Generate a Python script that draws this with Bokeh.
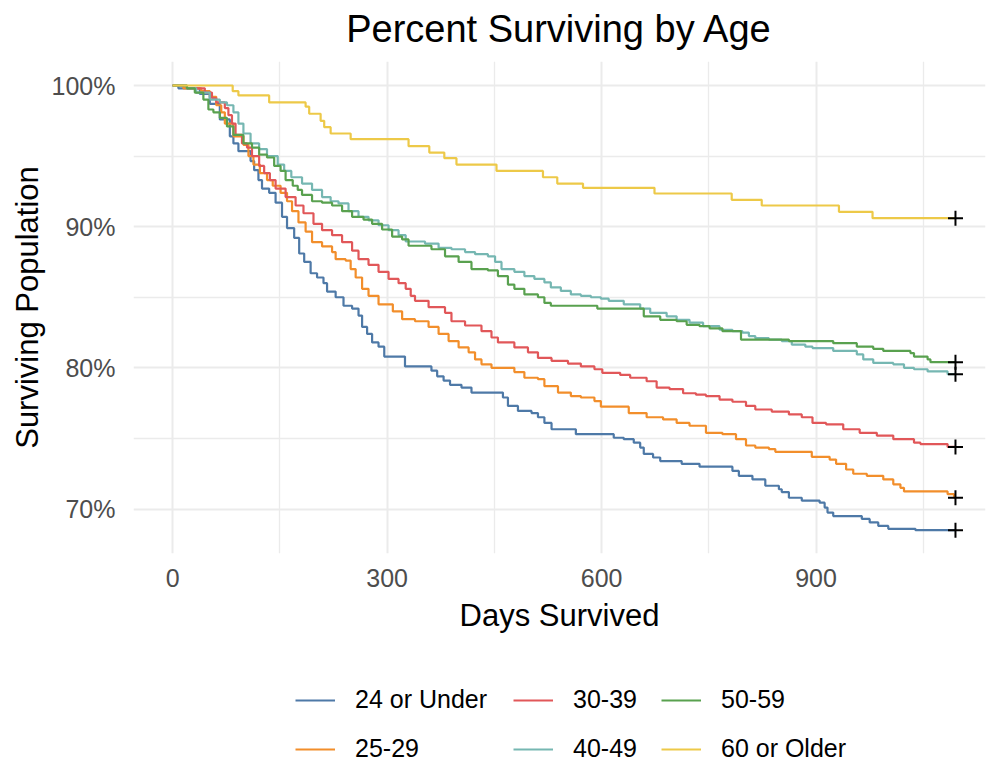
from bokeh.plotting import figure
from bokeh.layouts import column
from bokeh.models import (Range1d, FixedTicker, PrintfTickFormatter, Legend,
                          LegendItem, ColumnDataSource, Label)
from bokeh.embed import file_html
from bokeh.resources import INLINE

# ---------------- data (Kaplan-Meier steps) ----------------
FOLLOW_UP = 1095  # last day of follow-up (censoring marks)

title_text = "Percent Surviving by Age"
groups = ["24 or Under", "25-29", "30-39", "40-49", "50-59", "60 or Older"]
colors = ["#4E79A7", "#F28E2B", "#E15759", "#76B7B2", "#59A14F", "#EDC948"]

days_24 = [0, 8, 38, 52, 66, 80, 85, 92, 109, 114, 120, 125, 135, 144, 153, 160, 170, 177,
           184, 193, 202, 211, 216, 228, 239, 251, 260, 265, 272, 279, 288, 296, 325, 362,
           370, 379, 388, 404, 418, 462, 469, 483, 502, 511, 520, 530, 564, 617, 631, 645,
           654, 659, 672, 682, 712, 737, 783, 792, 811, 829, 848, 852, 862, 880, 905, 912,
           916, 924, 964, 975, 987, 1001, 1039]
surv_24 = [100, 99.8, 99.4, 98.7, 97.6, 96.4, 95.9, 95.35, 94.65, 94.0, 93.3, 92.7, 92.4,
           91.7, 90.7, 89.9, 89.2, 88.1, 87.5, 86.7, 86.4, 86.0, 85.4, 85.0, 84.4, 84.2,
           83.7, 82.9, 82.4, 81.8, 81.5, 80.8, 80.1, 79.8, 79.4, 79.1, 78.8, 78.6, 78.25,
           77.9, 77.3, 76.95, 76.8, 76.5, 76.1, 75.65, 75.3, 75.05, 74.95, 74.7, 74.35,
           73.9, 73.65, 73.4, 73.2, 73.0, 72.7, 72.35, 72.1, 71.65, 71.4, 71.2, 70.8, 70.6,
           70.45, 70.1, 69.75, 69.5, 69.3, 69.05, 68.8, 68.6, 68.5]

days_25 = [0, 15, 40, 52, 61, 68, 73, 85, 99, 106, 113, 122, 132, 140, 151, 160, 167, 176,
           186, 195, 209, 223, 228, 242, 249, 256, 265, 274, 288, 308, 321, 339, 358, 372,
           386, 400, 414, 423, 432, 446, 478, 492, 511, 520, 539, 557, 571, 590, 599, 638,
           663, 686, 705, 723, 746, 769, 788, 802, 815, 834, 843, 894, 919, 928, 942, 952,
           971, 994, 1008, 1018, 1023, 1084, 1093]
surv_25 = [100, 99.8, 99.6, 99.2, 98.6, 98.1, 97.3, 96.4, 95.8, 95.0, 94.4, 93.8, 93.3,
           92.9, 92.4, 91.8, 91.1, 90.3, 89.65, 88.9, 88.6, 88.2, 87.7, 87.6, 87.0, 86.4,
           85.6, 85.1, 84.5, 84.0, 83.45, 83.3, 82.9, 82.4, 81.9, 81.45, 81.1, 80.6, 80.25,
           80.0, 79.7, 79.3, 79.2, 78.7, 78.25, 78.0, 77.9, 77.65, 77.25, 76.8, 76.5,
           76.35, 76.1, 75.9, 75.4, 75.3, 74.95, 74.5, 74.35, 74.25, 74.05, 73.7, 73.5,
           73.2, 72.8, 72.5, 72.35, 72.1, 71.75, 71.5, 71.25, 71.05, 70.8]

days_30 = [0, 20, 45, 55, 61, 73, 78, 83, 88, 97, 104, 111, 121, 128, 136, 144, 158, 172,
           183, 197, 209, 223, 237, 251, 260, 274, 288, 302, 316, 326, 333, 339, 358, 381,
           390, 409, 432, 446, 455, 478, 497, 511, 530, 553, 571, 590, 601, 626, 640, 663,
           677, 695, 714, 732, 746, 765, 783, 802, 815, 838, 862, 880, 895, 914, 938, 961,
           985, 1008, 1037, 1046, 1084]
surv_30 = [100, 99.8, 99.5, 99.1, 98.8, 98.4, 97.9, 97.3, 96.5, 95.9, 95.6, 95.0, 94.3,
           93.8, 93.3, 92.7, 92.1, 91.5, 90.95, 90.2, 89.75, 89.4, 88.9, 88.3, 87.7, 87.3,
           86.8, 86.3, 86.0, 85.6, 85.1, 84.75, 84.3, 83.9, 83.3, 83.0, 82.6, 82.15, 81.8,
           81.45, 81.1, 80.7, 80.5, 80.3, 80.1, 79.9, 79.65, 79.5, 79.3, 79.05, 78.6, 78.5,
           78.2, 78.1, 78.0, 77.75, 77.6, 77.3, 77.05, 76.9, 76.7, 76.5, 76.1, 76.0, 75.65,
           75.4, 75.2, 74.95, 74.7, 74.6, 74.4]

days_40 = [0, 20, 33, 52, 66, 76, 85, 92, 99, 109, 121, 132, 147, 156, 166, 181, 195, 209,
           221, 232, 246, 260, 274, 288, 302, 316, 326, 353, 372, 390, 409, 423, 441, 451,
           460, 478, 492, 506, 520, 529, 543, 557, 571, 585, 599, 610, 631, 654, 668, 691,
           705, 723, 742, 765, 783, 797, 806, 815, 834, 852, 866, 885, 895, 924, 957, 966,
           980, 1008, 1023, 1037, 1056, 1084]
surv_40 = [100, 99.8, 99.5, 99.0, 98.8, 98.6, 98.1, 97.3, 96.6, 95.9, 95.5, 95.0, 94.4,
           93.95, 93.5, 93.05, 92.6, 92.1, 91.8, 91.65, 91.1, 90.7, 90.45, 90.1, 89.75,
           89.4, 88.95, 88.8, 88.5, 88.4, 88.2, 88.05, 87.9, 87.5, 87.0, 86.8, 86.5, 86.3,
           86.05, 85.7, 85.45, 85.2, 85.1, 85.0, 84.9, 84.75, 84.5, 84.2, 83.9, 83.65,
           83.4, 83.2, 82.95, 82.7, 82.6, 82.5, 82.25, 82.1, 82.0, 81.9, 81.65, 81.5, 81.4,
           81.2, 80.95, 80.6, 80.35, 80.25, 80.0, 79.9, 79.75, 79.55]

days_50 = [0, 20, 31, 43, 50, 57, 66, 76, 85, 99, 111, 121, 132, 142, 151, 158, 168, 175,
           181, 195, 209, 223, 237, 251, 267, 279, 293, 307, 321, 330, 362, 381, 400, 418,
           441, 455, 469, 478, 492, 511, 520, 529, 594, 659, 682, 705, 719, 737, 751, 769,
           795, 862, 924, 957, 980, 994, 1032, 1037, 1056, 1060]
surv_50 = [100, 99.8, 99.5, 99.0, 98.3, 98.1, 97.7, 97.1, 96.5, 95.9, 95.6, 95.1, 94.9,
           94.3, 93.95, 93.3, 92.9, 92.6, 92.25, 91.8, 91.7, 91.5, 91.1, 90.7, 90.5, 90.2,
           89.8, 89.3, 89.1, 88.65, 88.4, 87.9, 87.5, 87.0, 86.9, 86.5, 85.9, 85.6, 85.2,
           85.0, 84.6, 84.4, 84.2, 83.65, 83.4, 83.3, 83.05, 82.95, 82.8, 82.6, 82.0, 81.9,
           81.75, 81.5, 81.35, 81.2, 81.05, 80.8, 80.6, 80.4]

days_60 = [0, 84, 92, 135, 186, 191, 207, 212, 221, 249, 330, 359, 380, 397, 453, 518, 538,
           574, 674, 782, 824, 932, 979]
surv_60 = [100, 99.6, 99.3, 98.8, 98.5, 98.0, 97.5, 97.05, 96.6, 96.2, 95.7, 95.25, 94.85,
           94.4, 93.95, 93.5, 93.05, 92.75, 92.35, 91.9, 91.5, 91.05, 90.6]

series_days = [days_24, days_25, days_30, days_40, days_50, days_60]
series_surv = [surv_24, surv_25, surv_30, surv_40, surv_50, surv_60]

x_ticks = [0, 300, 600, 900]
x_minor = [150, 450, 750, 1050]
y_ticks = [70, 80, 90, 100]
y_minor = [75, 85, 95]

FONT = "Liberation Sans"
GRID = "#EBEBEB"


def bare_strip(height):
    f = figure(width=988, height=height, x_range=Range1d(0, 1), y_range=Range1d(0, 1),
               output_backend="svg", toolbar_location=None,
               x_axis_type=None, y_axis_type=None,
               min_border_left=0, min_border_right=0, min_border_top=0, min_border_bottom=0)
    f.outline_line_color = None
    f.xgrid.visible = False
    f.ygrid.visible = False
    f.border_fill_color = "white"
    f.background_fill_color = "white"
    return f


# ---------------- title strip ----------------
pt = bare_strip(61)
pt.add_layout(Label(x=0.5, y=0.535, text=title_text, text_align="center",
                    text_baseline="middle", text_font=FONT, text_font_size="38px",
                    text_color="black"))

# ---------------- main figure ----------------
p = figure(width=988, height=599,
           x_range=Range1d(-54.75, 1137), y_range=Range1d(66.85, 101.7),
           output_backend="svg", toolbar_location=None,
           min_border_left=133, min_border_right=3, min_border_top=0,
           min_border_bottom=107)
p.outline_line_color = None
p.background_fill_color = "white"
p.border_fill_color = "white"

p.xaxis.ticker = FixedTicker(ticks=x_ticks, minor_ticks=x_minor)
p.yaxis.ticker = FixedTicker(ticks=y_ticks, minor_ticks=y_minor)
p.yaxis.formatter = PrintfTickFormatter(format="%d%%")
p.xaxis.axis_label = "Days Survived"
p.yaxis.axis_label = "Surviving Population"

for ax in (p.xaxis, p.yaxis):
    ax.axis_line_color = None
    ax.major_tick_line_color = None
    ax.minor_tick_line_color = None
    ax.major_tick_out = 0
    ax.major_tick_in = 0
    ax.minor_tick_out = 0
    ax.minor_tick_in = 0
    ax.major_label_text_font = FONT
    ax.major_label_text_font_size = "25px"
    ax.major_label_text_color = "#4D4D4D"
    ax.axis_label_text_font = FONT
    ax.axis_label_text_font_size = "31px"
    ax.axis_label_text_font_style = "normal"
    ax.axis_label_text_color = "black"
p.xaxis.major_label_standoff = 15
p.xaxis.axis_label_standoff = 8
p.yaxis.major_label_standoff = 18
p.yaxis.axis_label_standoff = 4

for g in (p.xgrid, p.ygrid):
    g.grid_line_color = GRID
    g.grid_line_width = 2
    g.minor_grid_line_color = GRID
    g.minor_grid_line_width = 1.3

# ---------------- curves ----------------
last_x, last_y = [], []
for name, col, d, s in zip(groups, colors, series_days, series_surv):
    xs = list(d) + [FOLLOW_UP]
    ys = list(s) + [s[-1]]
    src = ColumnDataSource(dict(x=xs, y=ys))
    p.step(x="x", y="y", source=src, mode="after", line_color=col, line_width=2.2)
    last_x.append(FOLLOW_UP)
    last_y.append(s[-1])

p.scatter(x=last_x, y=last_y, marker="cross", size=15, line_color="black", line_width=2)

# ---------------- legend strip below (three columns, two rows) ----------------
pl = bare_strip(103)
nan = float("nan")
items = []
for name, col in zip(groups, colors):
    # legend-only renderer: a single missing point, nothing is drawn in the strip
    r = pl.line(x=[nan], y=[nan], line_color=col, line_width=2.2)
    items.append(LegendItem(label=name, renderers=[r]))

col_offsets = [162, 380, 528]
for k, xo in enumerate(col_offsets):
    lg = Legend(items=items[2 * k:2 * k + 2], location=(xo, 0), orientation="vertical",
                glyph_width=40, glyph_height=26, label_height=26, label_standoff=20,
                spacing=20, padding=0, margin=0,
                label_text_font=FONT, label_text_font_size="25px",
                label_text_color="black",
                border_line_color=None, background_fill_alpha=0)
    pl.add_layout(lg, "center")

layout = column(pt, p, pl, spacing=0)
open("out.html", "w").write(file_html(layout, INLINE))
